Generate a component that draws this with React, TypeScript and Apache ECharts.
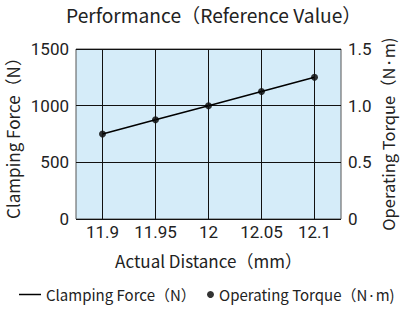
import React, { useEffect, useRef } from "react";
import * as echarts from "echarts";

const distances = ["11.9", "11.95", "12", "12.05", "12.1"];
const clampingForce = [750, 875, 1000, 1125, 1250];
const operatingTorque = [0.75, 0.875, 1.0, 1.125, 1.25];
const forceTicks = [0, 500, 1000, 1500];
const torqueTicks = [0, 0.5, 1.0, 1.5];

const FONT = "'Noto Sans CJK JP', 'Noto Sans', sans-serif";
const NUMFONT = "Roboto, 'Liberation Sans', sans-serif";
const TXT = "#222";

export default function App() {
  const ref = useRef<HTMLDivElement>(null);
  useEffect(() => {
    if (!ref.current) return;
    const chart = echarts.init(ref.current, null, { renderer: "svg" });
    chart.setOption({
      animation: false,
      textStyle: { fontFamily: FONT, color: TXT },
      title: {
        text: "Performance（Reference Value）",
        left: 61,
        top: 0,
        textStyle: { fontFamily: FONT, fontSize: 19.2, fontWeight: "normal", color: TXT },
      },
      grid: {
        left: 76,
        right: 59,
        top: 49,
        bottom: 94,
        outerBoundsMode: "none",
        containLabel: false,
        show: true,
        backgroundColor: "#d5ecf9",
        borderColor: "#555",
        borderWidth: 1,
      },
      legend: [
        {
          data: [{ name: "Clamping Force（N）", icon: "rect" }],
          left: 14,
          top: 282,
          itemWidth: 22,
          itemHeight: 1.5,
          itemGap: 10,
          textStyle: { fontFamily: FONT, fontSize: 15, color: TXT },
        },
        {
          data: [{ name: "Operating Torque（N·m)", icon: "circle" }],
          left: 202,
          top: 282,
          itemWidth: 7,
          itemHeight: 7,
          textStyle: { fontFamily: FONT, fontSize: 15, color: TXT },
        },
      ],
      xAxis: {
        type: "category",
        data: distances,
        boundaryGap: true,
        name: "Actual Distance（mm）",
        nameLocation: "middle",
        nameMoveOverlap: false,
        nameGap: 33,
        nameTextStyle: { fontFamily: FONT, fontSize: 17, color: TXT },
        axisLine: { show: false },
        axisTick: { show: false },
        axisLabel: { interval: 0, fontSize: 17, color: TXT, fontFamily: NUMFONT, margin: 4 },
        splitLine: { show: false },
      },
      yAxis: [
        {
          type: "value",
          min: forceTicks[0],
          max: forceTicks[forceTicks.length - 1],
          interval: 500,
          name: "Clamping Force（N）",
          nameLocation: "middle",
          nameMoveOverlap: false,
          nameGap: 55,
          nameTextStyle: { fontFamily: FONT, fontSize: 17, color: TXT },
          axisLine: { show: false },
          axisTick: { show: false },
          axisLabel: {
            fontSize: 17,
            color: TXT,
            fontFamily: NUMFONT,
            margin: 7,
            formatter: (v: number) => String(v),
          },
          splitLine: { show: true, lineStyle: { color: "#111", width: 1 } },
        },
        {
          type: "value",
          min: torqueTicks[0],
          max: torqueTicks[torqueTicks.length - 1],
          interval: 0.5,
          name: "Operating Torque（N·m)",
          nameLocation: "middle",
          nameMoveOverlap: false,
          nameGap: 39,
          nameTextStyle: { fontFamily: FONT, fontSize: 16.5, color: TXT },
          axisLine: { show: false },
          axisTick: { show: false },
          axisLabel: {
            fontSize: 17,
            color: TXT,
            fontFamily: NUMFONT,
            margin: 7,
            formatter: (v: number) => (v === 0 ? "0" : v.toFixed(1)),
          },
          splitLine: { show: false },
        },
      ],
      series: [
        {
          name: "Clamping Force（N）",
          type: "line",
          yAxisIndex: 0,
          symbol: "none",
          lineStyle: { color: "#000", width: 1.5 },
          itemStyle: { color: "#000" },
          data: clampingForce,
          markLine: {
            silent: true,
            symbol: "none",
            label: { show: false },
            lineStyle: { color: "#111", width: 1, type: "solid" },
            data: distances.map((d) => ({ xAxis: d })),
          },
        },
        {
          name: "Operating Torque（N·m)",
          type: "scatter",
          yAxisIndex: 1,
          symbolSize: 7,
          itemStyle: { color: "#000" },
          data: operatingTorque,
        },
      ],
    });
    return () => chart.dispose();
  }, []);
  return <div ref={ref} style={{ width: 400, height: 313, position: "absolute", left: 0, top: 0 }} />;
}
